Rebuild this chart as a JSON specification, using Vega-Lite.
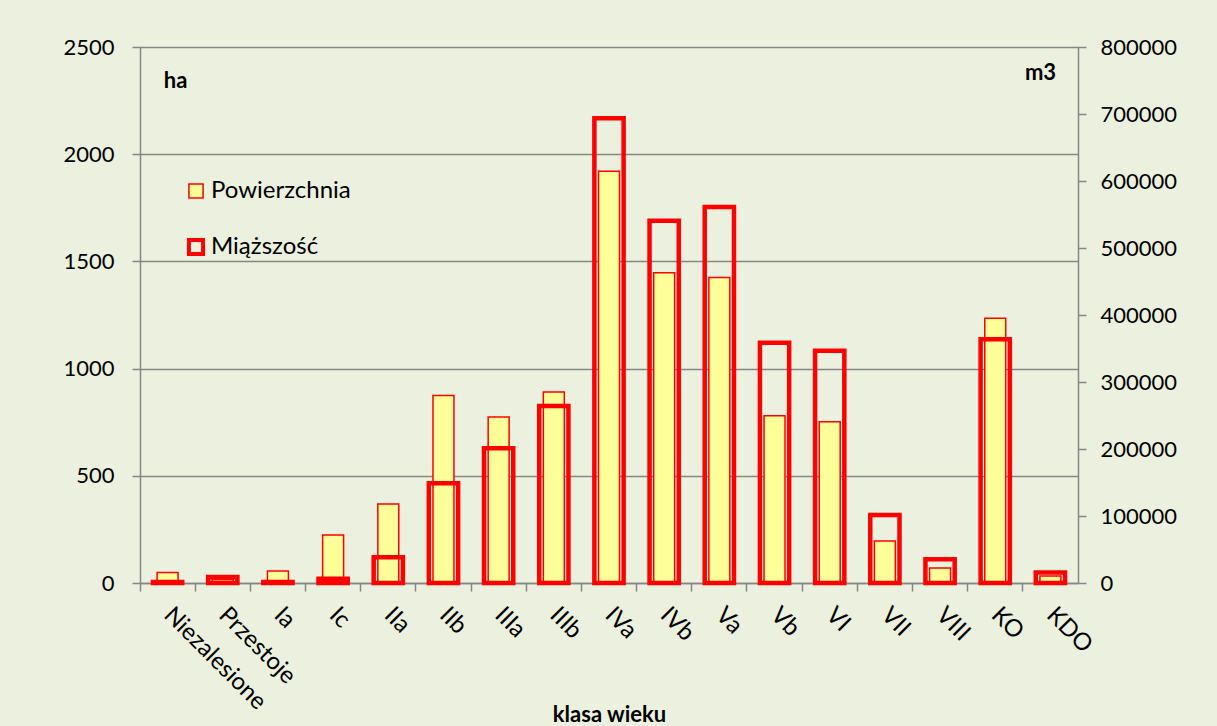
{
  "$schema": "https://vega.github.io/schema/vega-lite/v6.json",
  "width": 938,
  "height": 536,
  "autosize": {"type": "none"},
  "padding": {"left": 140, "top": 47, "right": 139, "bottom": 143},
  "background": "#EBF1DE",
  "config": {
    "view": {"stroke": null},
    "font": "Lato",
    "axis": {
      "domainColor": "#868686",
      "domainWidth": 1.5,
      "tickColor": "#868686",
      "tickWidth": 1.5,
      "tickSize": 8,
      "gridColor": "#868686",
      "gridWidth": 1.5,
      "labelColor": "#000000",
      "labelFontSize": 22,
      "labelFont": "Lato",
      "titleColor": "#000000",
      "titleFont": "Lato",
      "titleFontSize": 22,
      "titleFontWeight": "bold"
    },
    "legend": {
      "orient": "none",
      "legendX": 44,
      "legendY": 132,
      "symbolType": "square",
      "symbolSize": 200,
      "symbolStrokeColor": "#FF0000",
      "labelFontSize": 24,
      "labelFont": "Lato",
      "labelColor": "#000000",
      "rowPadding": 28,
      "labelOffset": 3
    }
  },
  "data": {
    "values": [
      {"klasa": "Niezalesione", "seria": "Powierzchnia", "wartosc": 49},
      {"klasa": "Przestoje", "seria": "Powierzchnia", "wartosc": 16},
      {"klasa": "Ia", "seria": "Powierzchnia", "wartosc": 56},
      {"klasa": "Ic", "seria": "Powierzchnia", "wartosc": 224},
      {"klasa": "IIa", "seria": "Powierzchnia", "wartosc": 369},
      {"klasa": "IIb", "seria": "Powierzchnia", "wartosc": 874},
      {"klasa": "IIIa", "seria": "Powierzchnia", "wartosc": 774},
      {"klasa": "IIIb", "seria": "Powierzchnia", "wartosc": 891},
      {"klasa": "IVa", "seria": "Powierzchnia", "wartosc": 1921},
      {"klasa": "IVb", "seria": "Powierzchnia", "wartosc": 1447},
      {"klasa": "Va", "seria": "Powierzchnia", "wartosc": 1425},
      {"klasa": "Vb", "seria": "Powierzchnia", "wartosc": 780},
      {"klasa": "VI", "seria": "Powierzchnia", "wartosc": 752},
      {"klasa": "VII", "seria": "Powierzchnia", "wartosc": 196},
      {"klasa": "VIII", "seria": "Powierzchnia", "wartosc": 70},
      {"klasa": "KO", "seria": "Powierzchnia", "wartosc": 1235},
      {"klasa": "KDO", "seria": "Powierzchnia", "wartosc": 33},
      {"klasa": "Niezalesione", "seria": "Miąższość", "wartosc": 1500},
      {"klasa": "Przestoje", "seria": "Miąższość", "wartosc": 9000},
      {"klasa": "Ia", "seria": "Miąższość", "wartosc": 1500},
      {"klasa": "Ic", "seria": "Miąższość", "wartosc": 6500},
      {"klasa": "IIa", "seria": "Miąższość", "wartosc": 38400},
      {"klasa": "IIb", "seria": "Miąższość", "wartosc": 148800},
      {"klasa": "IIIa", "seria": "Miąższość", "wartosc": 201000},
      {"klasa": "IIIb", "seria": "Miąższość", "wartosc": 264200},
      {"klasa": "IVa", "seria": "Miąższość", "wartosc": 693700},
      {"klasa": "IVb", "seria": "Miąższość", "wartosc": 540800},
      {"klasa": "Va", "seria": "Miąższość", "wartosc": 561300},
      {"klasa": "Vb", "seria": "Miąższość", "wartosc": 358700},
      {"klasa": "VI", "seria": "Miąższość", "wartosc": 346800},
      {"klasa": "VII", "seria": "Miąższość", "wartosc": 101500},
      {"klasa": "VIII", "seria": "Miąższość", "wartosc": 35400},
      {"klasa": "KO", "seria": "Miąższość", "wartosc": 363800},
      {"klasa": "KDO", "seria": "Miąższość", "wartosc": 15500}
    ]
  },
  "layer": [
    {
      "transform": [{"filter": "datum.seria === 'Powierzchnia'"}],
      "mark": {"type": "bar", "stroke": "#FF0000", "strokeWidth": 1.5, "width": {"band": 0.38}},
      "encoding": {
        "x": {
          "field": "klasa",
          "type": "nominal",
          "sort": null,
          "scale": {"paddingInner": 0, "paddingOuter": 0},
          "axis": {
            "orient": "bottom",
            "title": "klasa wieku",
            "labelAngle": 45,
            "labelAlign": "left",
            "labelBaseline": "middle",
            "labelPadding": 28,
            "labelFontSize": 24,
            "ticks": false,
            "titleY": 131,
            "titleBaseline": "middle"
          }
        },
        "y": {
          "field": "wartosc",
          "type": "quantitative",
          "scale": {"domain": [0, 2500], "nice": false},
          "axis": {
            "orient": "left",
            "values": [0, 500, 1000, 1500, 2000, 2500],
            "format": "d",
            "grid": true,
            "labelPadding": 18,
            "title": "ha",
            "titleAngle": 0,
            "titleX": 35,
            "titleY": 33,
            "titleAlign": "center",
            "titleBaseline": "middle"
          }
        },
        "fill": {
          "field": "seria",
          "type": "nominal",
          "scale": {"domain": ["Powierzchnia", "Miąższość"], "range": ["#FFFF99", "transparent"]},
          "legend": {
            "title": null,
            "encode": {
              "symbols": {
                "update": {
                  "stroke": {"value": "#FF0000"},
                  "strokeWidth": {"signal": "datum.value === 'Miąższość' ? 4 : 1.5"}
                }
              }
            }
          }
        }
      }
    },
    {
      "transform": [{"filter": "datum.seria === 'Miąższość'"}],
      "mark": {"type": "bar", "stroke": "#FF0000", "strokeWidth": 4.5, "width": {"band": 0.53}},
      "encoding": {
        "x": {
          "field": "klasa",
          "type": "nominal",
          "sort": null,
          "axis": {
            "orient": "bottom",
            "labels": false,
            "domain": false,
            "ticks": true,
            "bandPosition": 0,
            "title": null
          }
        },
        "y": {
          "field": "wartosc",
          "type": "quantitative",
          "scale": {"domain": [0, 800000], "nice": false},
          "axis": {
            "orient": "right",
            "values": [0, 100000, 200000, 300000, 400000, 500000, 600000, 700000, 800000],
            "format": "d",
            "grid": false,
            "labelPadding": 14,
            "title": "m3",
            "titleAngle": 0,
            "titleX": -38,
            "titleY": 25,
            "titleAlign": "center",
            "titleBaseline": "middle"
          }
        },
        "fill": {"field": "seria", "type": "nominal"}
      }
    }
  ],
  "resolve": {"scale": {"y": "independent"}, "axis": {"x": "independent"}}
}
